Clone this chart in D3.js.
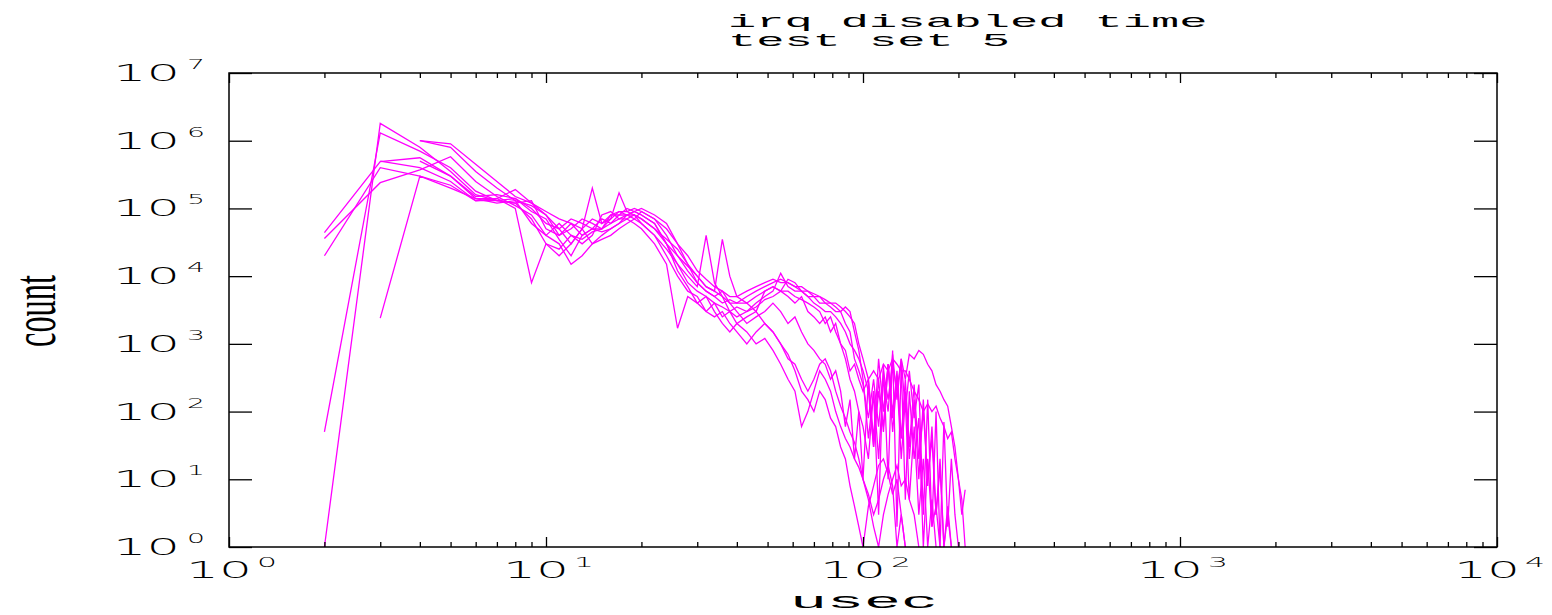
<!DOCTYPE html>
<html><head><meta charset="utf-8">
<script src="https://cdn.jsdelivr.net/npm/d3@7"></script>
<style>body{margin:0;background:#fff;} svg{display:block}</style>
</head><body>
<svg id="c" width="1552" height="615"></svg>
<script>
const titleLines = ["irq disabled time", "test set 5"];
const xLabel = "usec";
const yLabel = "count";
const xTickExps = [0, 1, 2, 3, 4];
const yTickExps = [0, 1, 2, 3, 4, 5, 6, 7];

const xs = [2,3,4,5,6,7,8,9,10,
  11,12,13,14,15,16,17,18,19,20,
  22,24,26,28,30,32,34,36,38,40,
  43,46,49,52,55,58,61,64,67,70,
  73,76,79,82,85,88,91,94,97,100,
  104,108,112,116,120,124,128,132,136,140,
  145,150,155,160,165,170,175,180,185,190,
  195,200,205,210];

const s1 = [1,1.8e6,8e5,3.5e5,1.6e5,1.3e5,1.4e5,1e5,6e4,
  5e4,3e4,5e4,2e5,6e4,7e4,9e4,8e4,8e4,7e4,
  5e4,3e4,2e4,1.2e4,8e3,6e3,5e3,4e3,4.5e3,4e3,
  5e3,6e3,7e3,8e3,9e3,8e3,7e3,7e3,6e3,5e3,
  5e3,4e3,4e3,3.5e3,3e3,2e3,1.5e3,600,400,250,
  80,300,60,400,150,500,200,600,300,700,
  600,800,700,500,400,250,200,150,120,60,
  30,10,5,1];
const s2 = [50,1.3e6,7e5,4e5,1.8e5,1.3e5,1.2e5,1.3e5,5e4,
  4e4,6e4,4e4,5e4,5e4,7e4,1.7e5,9e4,8e4,6e4,
  4e4,2.5e4,1.5e4,8e3,6e3,5e3,4e3,3.5e3,3e3,3.5e3,
  3e3,4e3,5e3,6e3,1.1e4,7e3,6e3,6e3,5e3,5e3,
  4e3,4e3,3.5e3,3e3,3e3,3.5e3,3e3,1.5e3,800,300,
  40,200,20,300,100,700,150,600,100,400,
  80,250,3,150,2,100,1,70,2,20,
  3,1,null,null];
const s3 = [4.4e4,4.9e5,5.6e5,3e5,1.4e5,1.4e5,1.9e5,1.2e5,8e4,
  4e4,5e4,7e4,6e4,5e4,8e4,8e4,1e5,9e4,8e4,
  6e4,3e4,1.5e4,1e4,7e3,4e4,8e3,5e3,3e3,2.5e3,
  3e3,3.5e3,4.5e3,5e3,6e3,6e3,5e3,4.5e3,4e3,3.5e3,
  3e3,2e3,2.5e3,1.5e3,1e3,600,300,200,100,60,
  20,200,3,500,10,800,2,500,5,200,
  20,80,1,20,2,4,1,null,null,null,
  null,null,null,null];
const s4 = [3.6e4,2.4e5,3.7e5,5.8e5,2.5e5,1.5e5,1.1e5,8e4,4e4,
  6e4,4e4,3e4,4e4,8e4,9e4,7e4,8e4,7e4,9e4,
  7e4,4e4,2e4,1.4e4,1e4,7e3,6e3,3.5e4,1e4,5e3,
  4e3,3e3,6e3,7e3,6e3,5e3,4e3,5e3,3e3,2.5e3,
  2e3,2.5e3,1.5e3,2e3,1e3,800,400,500,300,200,
  300,30,300,50,500,80,400,40,200,20,
  150,10,150,8,60,3,20,1,3,1,
  null,null,null,null];
const s5 = [2e4,4e5,3e5,2.2e5,1.3e5,1.4e5,1e5,8e3,3e4,
  2e4,3e4,5e4,3e4,4e4,5e4,6e4,7e4,6e4,5e4,
  3e4,1.5e4,1.7e3,5e3,4e3,5e3,3e3,2e3,1.5e3,2e3,
  1.5e3,1e3,1.2e3,800,500,300,200,60,100,200,
  400,300,200,100,60,40,30,20,15,10,
  5,2,1,3,6,10,16,8,10,5,
  3,1,null,null,null,null,null,null,null,null,
  null,null,null,null];
const s6 = [null,2.4e3,3e5,2e5,1.4e5,1.2e5,1.3e5,6e4,4e4,
  3e4,1.5e4,2e4,3e4,3.5e4,4e4,5e4,6e4,7e4,6e4,
  4e4,2e4,1e4,6e3,5e3,3e3,4e3,2.5e3,3e3,2e3,
  2.5e3,3e3,2e3,1.5e3,1e3,600,500,300,200,300,
  500,600,400,200,120,80,50,35,20,10,
  6,3,5,10,16,8,1,3,1,null,
  null,null,null,null,null,null,null,null,null,null,
  null,null,null,null];
const s7 = [null,null,1e6,9e5,4.5e5,2.5e5,1.5e5,1.2e5,9e4,
  7e4,6e4,5e4,7e4,6e4,8e4,9e4,9e4,1e5,9e4,
  7e4,5e4,3e4,2e4,1.2e4,9e3,7e3,6e3,5e3,5e3,
  6e3,7e3,8e3,9e3,8e3,8e3,7e3,6e3,6e3,5.5e3,
  5e3,4.5e3,4e3,4e3,3.5e3,3e3,2.5e3,2e3,1e3,600,
  300,400,300,500,400,600,500,400,400,300,
  200,150,100,130,100,120,80,60,40,50,
  20,10,3,7];
const s8 = [null,5e5,4e5,2.5e5,1.3e5,1.3e5,1.2e5,7e4,3e4,
  2.5e4,4e4,3.5e4,4.5e4,5e4,6e4,7e4,7e4,8e4,7e4,
  5e4,3.5e4,2.5e4,1.5e4,8e3,6e3,5e3,6e3,4e3,3e3,
  2e3,2.5e3,3e3,4e3,3e3,2e3,2.5e3,1.5e3,1e3,800,
  600,500,300,400,200,60,150,20,100,10,
  300,40,600,100,500,50,300,20,150,5,
  60,3,20,1,5,1,null,null,null,null,
  null,null,null,null];
const s9 = [null,null,5e5,3e5,1.5e5,1.6e5,1.4e5,9e4,7e4,
  3.5e4,2e4,4e4,5e4,4.5e4,5e4,6e4,8e4,9e4,8e4,
  6e4,3e4,1.2e4,7e3,4e3,3e3,2.5e3,3e3,2e3,1.5e3,
  1e3,1.5e3,2e3,1.5e3,1e3,700,400,200,150,100,
  200,150,80,60,30,20,8,4,2,1,
  4,8,16,20,12,6,10,3,1,null,
  null,null,null,null,null,null,null,null,null,null,
  null,null,null,null];
const s10 = [null,null,1e6,8e5,3.5e5,2e5,1.3e5,1.1e5,8e4,
  5e4,7e4,6e4,5e4,7e4,6e4,8e4,8e4,9e4,1e5,
  8e4,6e4,3e4,1.5e4,1e4,7e3,6e3,5e3,4e3,4e3,
  4e3,5e3,6e3,7e3,6e3,9e3,8e3,6e3,5e3,4e3,
  3.5e3,3e3,3e3,2.5e3,2e3,1.5e3,1e3,800,600,400,
  200,30,200,60,500,100,300,40,300,30,
  250,20,100,10,40,3,15,1,4,1,
  null,null,null,null];
const seriesList = [s1, s2, s3, s4, s5, s6, s7, s8, s9, s10];

const M = {l: 229, r: 1497, t: 73, b: 547};
const svg = d3.select("#c");
const x = d3.scaleLog().domain([1, 1e4]).range([M.l, M.r]);
const y = d3.scaleLog().domain([1, 1e7]).range([M.b, M.t]);

const FONT = "'Liberation Mono', 'DejaVu Sans Mono', monospace";
const DIGIT_FONT = "'DejaVu Sans', sans-serif";

svg.append("defs").append("clipPath").attr("id", "clip")
  .append("rect").attr("x", M.l).attr("y", M.t - 1).attr("width", M.r - M.l).attr("height", M.b - M.t + 2);

const line = d3.line().defined(d => d[1] != null)
  .x(d => x(d[0])).y(d => y(d[1]));
svg.append("g").attr("clip-path", "url(#clip)")
  .selectAll("path").data(seriesList).join("path")
  .attr("d", s => line(xs.map((v, i) => [v, s[i]])))
  .attr("fill", "none").attr("stroke", "#ff00ff").attr("stroke-width", 1.3);

const xMajor = xTickExps.map(e => Math.pow(10, e));
const xMinor = [];
for (let e = 0; e < 4; e++) for (let k = 2; k <= 9; k++) xMinor.push(k * Math.pow(10, e));
const yMajor = yTickExps.map(e => Math.pow(10, e));

function styleAxis(g) {
  g.select(".domain").remove();
  g.selectAll(".tick line").attr("stroke", "#000").attr("stroke-width", 1.3);
  g.selectAll(".tick text").remove();
}
svg.append("g").attr("transform", `translate(0,${M.b})`)
  .call(d3.axisBottom(x).tickValues(xMajor).tickSize(-10).tickFormat("")).call(styleAxis);
svg.append("g").attr("transform", `translate(0,${M.b})`)
  .call(d3.axisBottom(x).tickValues(xMinor).tickSize(-5).tickFormat("")).call(styleAxis);
svg.append("g").attr("transform", `translate(0,${M.t})`)
  .call(d3.axisTop(x).tickValues(xMajor).tickSize(-10).tickFormat("")).call(styleAxis);
svg.append("g").attr("transform", `translate(0,${M.t})`)
  .call(d3.axisTop(x).tickValues(xMinor).tickSize(-5).tickFormat("")).call(styleAxis);
svg.append("g").attr("transform", `translate(${M.l},0)`)
  .call(d3.axisLeft(y).tickValues(yMajor).tickSize(-23).tickFormat("")).call(styleAxis);
svg.append("g").attr("transform", `translate(${M.r},0)`)
  .call(d3.axisRight(y).tickValues(yMajor).tickSize(-23).tickFormat("")).call(styleAxis);

svg.append("rect").attr("x", M.l).attr("y", M.t).attr("width", M.r - M.l).attr("height", M.b - M.t)
  .attr("fill", "none").attr("stroke", "#000").attr("stroke-width", 1.5);

function stretched(txt, px, py, len, size, family, weight) {
  return svg.append("text").attr("x", px).attr("y", py)
    .attr("font-family", family || FONT).attr("font-size", size)
    .attr("font-weight", weight || 400)
    .attr("textLength", len).attr("lengthAdjust", "spacingAndGlyphs")
    .attr("fill", "#000").text(txt);
}

yTickExps.forEach(e => {
  const ty = y(Math.pow(10, e));
  stretched("10", 113, ty + 8, 67, 23, DIGIT_FONT, 200);
  stretched(String(e), 187, ty - 4, 18, 14, DIGIT_FONT, 200);
});
xTickExps.forEach(e => {
  const tx = x(Math.pow(10, e));
  stretched("10", tx - 43, 578, 66, 23, DIGIT_FONT, 200);
  stretched(String(e), tx + 28, 567, 20, 14, DIGIT_FONT, 200);
});

titleLines.forEach((t, i) => {
  stretched(t, 728, 27 + i * 19, t.length * 28.2, 19);
});

stretched(xLabel, 790, 608, 148, 22);
svg.append("text").attr("transform", "translate(55,311) rotate(-90)")
  .attr("font-family", "'Liberation Serif', 'DejaVu Serif', serif").attr("font-size", 62)
  .attr("textLength", 72).attr("lengthAdjust", "spacingAndGlyphs")
  .attr("text-anchor", "middle").attr("fill", "#000").text(yLabel);
</script>
</body></html>
